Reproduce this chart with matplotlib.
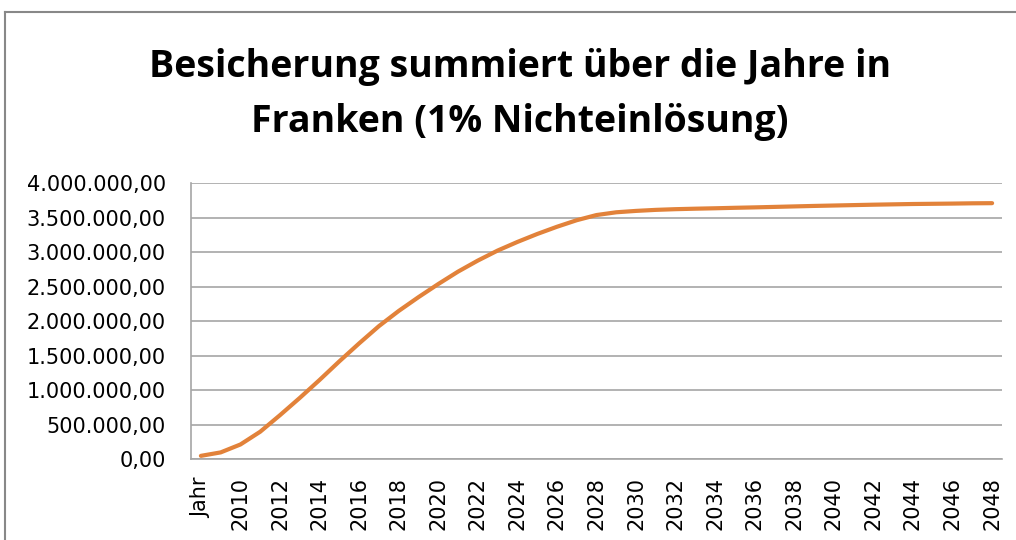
import matplotlib.pyplot as plt
from matplotlib.lines import Line2D
from matplotlib.ticker import FuncFormatter

categories = ['Jahr'] + [str(y) for y in range(2009, 2049)]
values = [50000, 100000, 215000, 400000, 640000, 890000, 1150000, 1420000,
          1680000, 1930000, 2150000, 2350000, 2540000, 2720000, 2880000,
          3025000, 3150000, 3265000, 3370000, 3465000, 3540000, 3580000,
          3600000, 3615000, 3625000, 3632000, 3638000, 3645000, 3651000,
          3658000, 3665000, 3672000, 3678000, 3684000, 3690000, 3695000,
          3700000, 3703000, 3706000, 3710000, 3712000]
title_lines = ['Besicherung summiert über die Jahre in',
               'Franken (1% Nichteinlösung)']


def de_fmt(v, pos=None):
    s = f'{v:,.2f}'
    return s.replace(',', 'X').replace('.', ',').replace('X', '.')


W, H = 1016, 540
fig = plt.figure(figsize=(W / 100, H / 100), dpi=100)
ax = fig.add_axes([191 / W, 1 - 459.3 / H, (1002 - 191) / W, (459.3 - 183.3) / H])

x = list(range(len(categories)))
ax.plot(x, values, color='#E2823A', linewidth=3, solid_capstyle='round',
        solid_joinstyle='round')

ax.set_xlim(-0.5, len(categories) - 0.5)
ax.set_ylim(0, 4000000)
ax.set_yticks(range(0, 4000001, 500000))
ax.yaxis.set_major_formatter(FuncFormatter(de_fmt))
ax.set_xticks(x[::2])
ax.set_xticklabels(categories[::2], rotation=90)

ax.grid(axis='y', color='#A6A6A6', linewidth=1.2)
ax.set_axisbelow(True)
for side in ['top', 'right']:
    ax.spines[side].set_visible(False)
for side in ['left', 'bottom']:
    ax.spines[side].set_color('#A6A6A6')
    ax.spines[side].set_linewidth(1.2)
ax.tick_params(axis='both', length=0, labelsize=15, labelcolor='black')
ax.tick_params(axis='y', pad=18)
ax.tick_params(axis='x', pad=13)

fig.text(520 / W, 1 - 77 / H, title_lines[0], ha='center', va='baseline',
         fontsize=27, fontweight='bold', family='Open Sans')
fig.text(520 / W, 1 - 132 / H, title_lines[1], ha='center', va='baseline',
         fontsize=27, fontweight='bold', family='Open Sans')

# chart frame (top and left edges visible in the crop)
fig.add_artist(Line2D([5 / W, 1], [1 - 12 / H, 1 - 12 / H], color='#888888', linewidth=1.5))
fig.add_artist(Line2D([5 / W, 5 / W], [0, 1 - 12 / H], color='#888888', linewidth=1.5))

fig.savefig('out.png', dpi=100)
